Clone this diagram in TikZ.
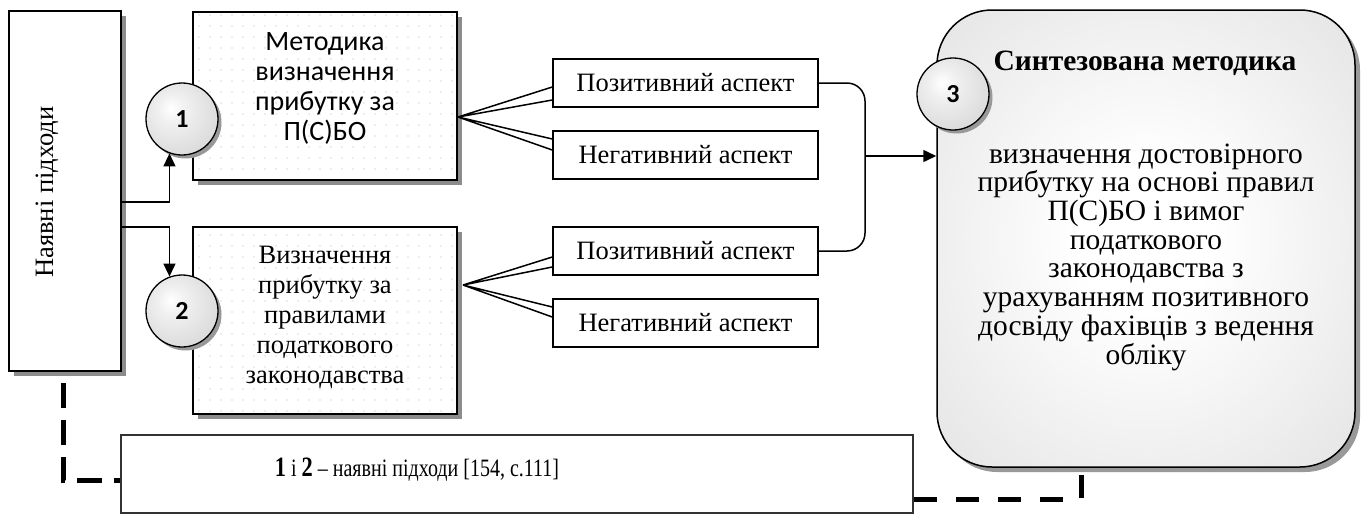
\documentclass[tikz,border=0pt]{standalone}
\usepackage{fontspec}
\setmainfont{Liberation Serif}
\newfontfamily\calfont{Carlito}
\usetikzlibrary{arrows.meta,shadows,patterns.meta,calc}
\pgfdeclareradialshading{sboxshade}{\pgfpoint{0bp}{0bp}}{color(0bp)=(white); color(8bp)=(white); color(50bp)=(black!16); color(72bp)=(black!18)}
\pgfdeclareradialshading{circshade}{\pgfpoint{-8bp}{8bp}}{color(0bp)=(white); color(10bp)=(black!6); color(50bp)=(black!22); color(62bp)=(black!24)}
\begin{document}
\begin{tikzpicture}[x=1pt,y=-1pt,
  box/.style={draw=black, line width=1.5pt, inner sep=0pt, rectangle},
  shbox/.style={box, general shadow={fill=black!45, shadow xshift=5pt, shadow yshift=-5pt}},
  dotbox/.style={shbox, preaction={fill=white}, pattern={Dots[distance=10.5pt, radius=0.7pt]}, pattern color=black!30},
  aspect/.style={box, fill=white, minimum width=265pt, minimum height=48pt},
  numc/.style={circle, draw=black, line width=1.3pt, minimum size=72pt, inner sep=0pt,
     general shadow={fill=black!40, shadow xshift=3.5pt, shadow yshift=-3.5pt},
     shading=circshade,
     font={\calfont\bfseries\fontsize{26}{30}\selectfont}},
  tnr/.style={font={\fontsize{26.5}{30}\selectfont}, align=center, inner sep=0pt},
  cal/.style={font={\calfont\fontsize{28}{30}\selectfont}, align=center, inner sep=0pt},
  conn/.style={draw=black, line width=1.5pt},
  arr/.style={conn, -{Triangle[length=13pt,width=12pt]}},
  dashline/.style={draw=black, line width=5pt, dash pattern=on 23pt off 19pt}
]
\useasboundingbox (0,0) rectangle (1363,515);

% left box
\node[shbox, fill=white, minimum width=112pt, minimum height=360pt] (L) at (65,191) {};
\node[tnr, rotate=90] (Lt) at (47,192) {Наявні підходи};

% dotted boxes
\node[dotbox, minimum width=264pt, minimum height=168pt] (B1) at (325,96) {};
\node[cal] (B1t) at (325,88) {Методика\\визначення\\прибутку  за\\П(С)БО};
\node[dotbox, minimum width=264pt, minimum height=187pt] (B2) at (325,320.5) {};
\node[tnr] (B2t) at (325,317) {Визначення\\прибутку за\\правилами\\податкового\\законодавства};

% aspect boxes
\node[aspect] (A1) at (685.5,83) {};
\node[tnr] at (A1) {Позитивний аспект};
\node[aspect] (N1) at (685.5,155) {};
\node[tnr] at (N1) {Негативний аспект};
\node[aspect] (A2) at (685.5,251) {};
\node[tnr] at (A2) {Позитивний аспект};
\node[aspect] (N2) at (685.5,323) {};
\node[tnr] at (N2) {Негативний аспект};

% fans
\coordinate (f1) at (458,117);
\coordinate (f2) at (463,285);
\draw[conn, line join=miter] ($(A1.west)+(0,4)$) -- (f1) -- ($(A1.west)+(0,17)$);
\draw[conn, line join=miter] ($(N1.west)+(0,-16)$) -- (f1) -- ($(N1.west)+(0,-5)$);
\draw[conn, line join=miter] ($(A2.west)+(0,6)$) -- (f2) -- ($(A2.west)+(0,16)$);
\draw[conn, line join=miter] ($(N2.west)+(0,-16)$) -- (f2) -- ($(N2.west)+(0,-6)$);

% synthesized box
\node[box, rounded corners=55pt, minimum width=418pt, minimum height=457pt,
      general shadow={fill=black!40, shadow xshift=5pt, shadow yshift=-5pt},
      shading=sboxshade] (S) at (1146,238.5) {};
\node[font={\bfseries\fontsize{29.5}{30}\selectfont}, inner sep=0pt] (St) at (1145,63) {Синтезована методика};
\node[tnr, font={\fontsize{29.5}{28.7}\selectfont}] (Sb) at (1146,257)
  {визначення достовірного\\прибутку на основі правил\\П(С)БО і вимог\\податкового\\законодавства з\\урахуванням позитивного\\досвіду фахівців з ведення\\обліку};

% circles
\node[numc] (c1) at (182,119) {1};
\node[numc] (c2) at (182,311) {2};
\node[numc] (c3) at (953,94) {3};

% bracket connector and arrow
\coordinate (j) at (865,156);
\draw[conn, rounded corners=18pt] (A1.east) -- (A1.east -| j) -- (A2.east -| j) -- (A2.east);
\draw[arr] (j) -- (j -| S.west);

% arrows from left box
\draw[arr] (L.east |- 0,202) -| (c1.-110);
\draw[arr] (L.east |- 0,227) -| (c2.110);

% bottom box
\node[draw=black!80, line width=1.2pt, minimum width=792pt, minimum height=78pt, inner sep=0pt] (T) at (517,474) {};
\node[inner sep=0pt, font={\fontsize{25}{28}\selectfont}] (Tt) at (417,470)
  {\scalebox{0.8}[1]{\textbf{\fontsize{28}{28}\selectfont 1} і \textbf{\fontsize{28}{28}\selectfont 2} – наявні підходи [154, с.111]}};

% dashed links
\coordinate (d1) at (63,383);
\draw[dashline, dash pattern=on 25pt off 12pt] (d1) |- (T.west |- 0,480);
\draw[dashline] (T.east |- 0,499) -| (1081,0 |- S.south);
\end{tikzpicture}
\end{document}
